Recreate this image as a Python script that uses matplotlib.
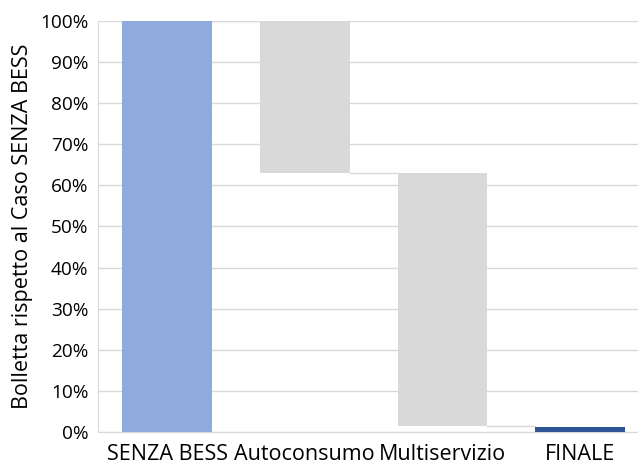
import matplotlib
matplotlib.use("Agg")
import matplotlib.pyplot as plt

# waterfall data (% of bill vs. SENZA BESS case)
categories = ["SENZA BESS", "Autoconsumo", "Multiservizio", "FINALE"]
start_value = 100.0
deltas = [-37.0, -61.5]      # Autoconsumo, Multiservizio
final_value = 1.3
y_ticks = [0, 10, 20, 30, 40, 50, 60, 70, 80, 90, 100]

plt.rcParams['font.family'] = ['Open Sans', 'DejaVu Sans']
plt.rcParams['font.weight'] = 500

fig, ax = plt.subplots(figsize=(6.38, 4.66), dpi=100)
fig.subplots_adjust(left=0.154, right=1.0, top=0.955, bottom=0.073)

width = 0.65
# start bar
ax.bar(0, start_value, width, color='#8FAADC', zorder=3)

# floating bars
level = start_value
levels = [level]
for i, d in enumerate(deltas):
    new_level = level + d
    ax.bar(i + 1, -d, width, bottom=new_level, color='#D9D9D9', zorder=3)
    level = new_level
    levels.append(level)

# final bar
ax.bar(len(categories) - 1, final_value, width, color='#2F5597', zorder=3)

# connector lines
for i, lv in enumerate(levels):
    ax.plot([i + width / 2, i + 1 - width / 2], [lv, lv], color='#D9D9D9',
            lw=1, zorder=2)

ax.set_ylim(0, 100)
ax.set_xlim(-0.5, 3.42)
ax.set_yticks(y_ticks)
ax.set_yticklabels([f"{t}%" for t in y_ticks])
ax.set_xticks(range(len(categories)))
ax.set_xticklabels(categories, fontsize=15.5)
ax.tick_params(axis='both', length=0, colors='#000000')
ax.tick_params(axis='y', labelsize=13.7, pad=7)
ax.tick_params(axis='x', pad=9)
ax.grid(axis='y', color='#D9D9D9', lw=1, zorder=0)
for s in ['top', 'right']:
    ax.spines[s].set_visible(False)
ax.spines['left'].set_color('#D9D9D9')
ax.spines['bottom'].set_color('#D9D9D9')
ax.set_ylabel("Bolletta rispetto al Caso SENZA BESS", fontsize=15.5, labelpad=5)

fig.savefig("out.png", dpi=100)
